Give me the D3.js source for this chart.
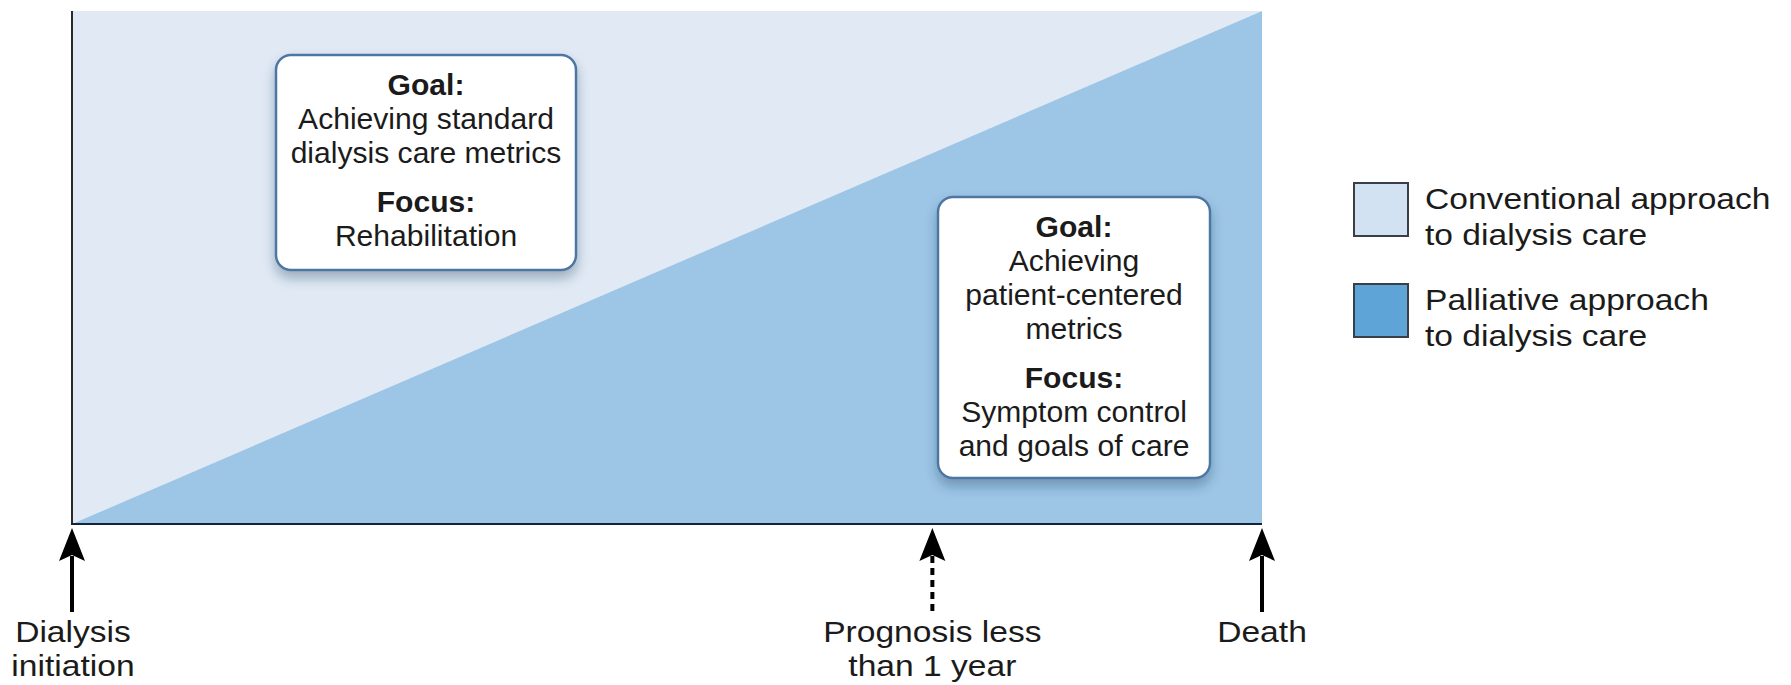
<!DOCTYPE html>
<html>
<head>
<meta charset="utf-8">
<script src="https://cdn.jsdelivr.net/npm/d3@7"></script>
<style>
  html, body { margin: 0; padding: 0; background: #ffffff; }
  svg { display: block; }
  text { font-family: "Liberation Sans", Arial, Helvetica, sans-serif; fill: #1b1b1b; }
</style>
</head>
<body>
<svg id="chart" width="1791" height="685"></svg>
<script>
// ---- data ----
const timeSteps = [0, 1];                    // fraction of time from dialysis initiation to death
const palliativeShare = [0, 100];            // % of care that is palliative
const conventionalShare = [100, 0];          // % of care that is conventional
const eventNames = ["Dialysis initiation", "Prognosis less than 1 year", "Death"];
const eventLabelLines = [["Dialysis", "initiation"], ["Prognosis less", "than 1 year"], ["Death"]];
const eventTimes = [0, 0.723, 1];
const eventDashed = [false, true, false];
const legendLabels = [["Conventional approach", "to dialysis care"], ["Palliative approach", "to dialysis care"]];
const boxConventional = { goal: ["Achieving standard", "dialysis care metrics"], focus: ["Rehabilitation"] };
const boxPalliative = { goal: ["Achieving", "patient-centered", "metrics"], focus: ["Symptom control", "and goals of care"] };

// ---- layout ----
const svg = d3.select("#chart");
const L = 72, R = 1262, T = 11, B = 524;
const x = d3.scaleLinear().domain([0, 1]).range([L, R]);
const y = d3.scaleLinear().domain([0, 100]).range([B, T]);
const colLight = "#e0e9f4", colDark = "#9dc5e6";
const stretch = 1.12;

const defs = svg.append("defs");
const f = defs.append("filter").attr("id", "shadow").attr("x", "-20%").attr("y", "-20%").attr("width", "140%").attr("height", "150%");
f.append("feDropShadow").attr("dx", 0).attr("dy", 7).attr("stdDeviation", 6)
  .attr("flood-color", "#1d3a5c").attr("flood-opacity", 0.35);

const pts = timeSteps.map((t, i) => ({ t, p: palliativeShare[i], c: conventionalShare[i] }));

// conventional (top-left triangle)
svg.append("path").datum(pts)
  .attr("d", d3.area().x(d => x(d.t)).y0(y(100)).y1(d => y(100 - d.c)))
  .attr("fill", colLight);
// palliative (bottom-right triangle)
svg.append("path").datum(pts)
  .attr("d", d3.area().x(d => x(d.t)).y0(y(0)).y1(d => y(d.p)))
  .attr("fill", colDark);

// axes lines
svg.append("line").attr("x1", L).attr("x2", L).attr("y1", T).attr("y2", B)
  .attr("stroke", "#2a2a2a").attr("stroke-width", 2);
svg.append("line").attr("x1", L - 1).attr("x2", R).attr("y1", B).attr("y2", B)
  .attr("stroke", "#15223a").attr("stroke-width", 2.2);

// text boxes
function drawBox(cx, top, w, h, content) {
  const g = svg.append("g");
  g.append("rect").attr("x", cx - w / 2).attr("y", top).attr("width", w).attr("height", h)
    .attr("rx", 15).attr("ry", 15)
    .attr("fill", "#ffffff").attr("stroke", "#4e77a3").attr("stroke-width", 2.5)
    .attr("filter", "url(#shadow)");
  let yy = top + 40;
  const lh = 34;
  const lines = [];
  lines.push({ t: "Goal:", b: true, y: yy });
  content.goal.forEach(s => { yy += lh; lines.push({ t: s, b: false, y: yy }); });
  yy += 49;
  lines.push({ t: "Focus:", b: true, y: yy });
  content.focus.forEach(s => { yy += lh; lines.push({ t: s, b: false, y: yy }); });
  g.selectAll("text.l").data(lines).enter().append("text")
    .attr("transform", d => `translate(${cx},${d.y}) scale(1.02,1)`)
    .attr("text-anchor", "middle")
    .attr("font-size", 29.5).attr("font-weight", d => d.b ? "bold" : "normal")
    .text(d => d.t);
}
drawBox(426, 55, 300, 215, boxConventional);
drawBox(1074, 197, 272, 281, boxPalliative);

// event arrows
eventTimes.forEach((t, i) => {
  const ax = x(t);
  const g = svg.append("g");
  g.append("line").attr("x1", ax).attr("x2", ax).attr("y1", 556).attr("y2", 612)
    .attr("stroke", "#000").attr("stroke-width", 4)
    .attr("stroke-dasharray", eventDashed[i] ? "7,5" : null);
  g.append("path")
    .attr("d", `M${ax},528 L${ax - 13},561 L${ax},555 L${ax + 13},561 Z`)
    .attr("fill", "#000");
  g.selectAll("text").data(eventLabelLines[i]).enter().append("text")
    .attr("transform", (d, j) => `translate(${ax + (i === 0 ? 1 : 0)},${642 + j * 34}) scale(${stretch},1)`)
    .attr("text-anchor", "middle").attr("font-size", 30)
    .text(d => d);
});

// legend
const legFill = ["#d3e2f2", "#5fa4d7"];
const legTop = [183, 284];
legendLabels.forEach((lines, i) => {
  svg.append("rect").attr("x", 1354).attr("y", legTop[i]).attr("width", 54).attr("height", 53)
    .attr("fill", legFill[i]).attr("stroke", "#3a3f47").attr("stroke-width", 2);
  lines.forEach((s, j) => {
    svg.append("text")
      .attr("transform", `translate(1425,${legTop[i] + 26 + j * 36}) scale(${stretch},1)`)
      .attr("font-size", 30).text(s);
  });
});
</script>
</body>
</html>
